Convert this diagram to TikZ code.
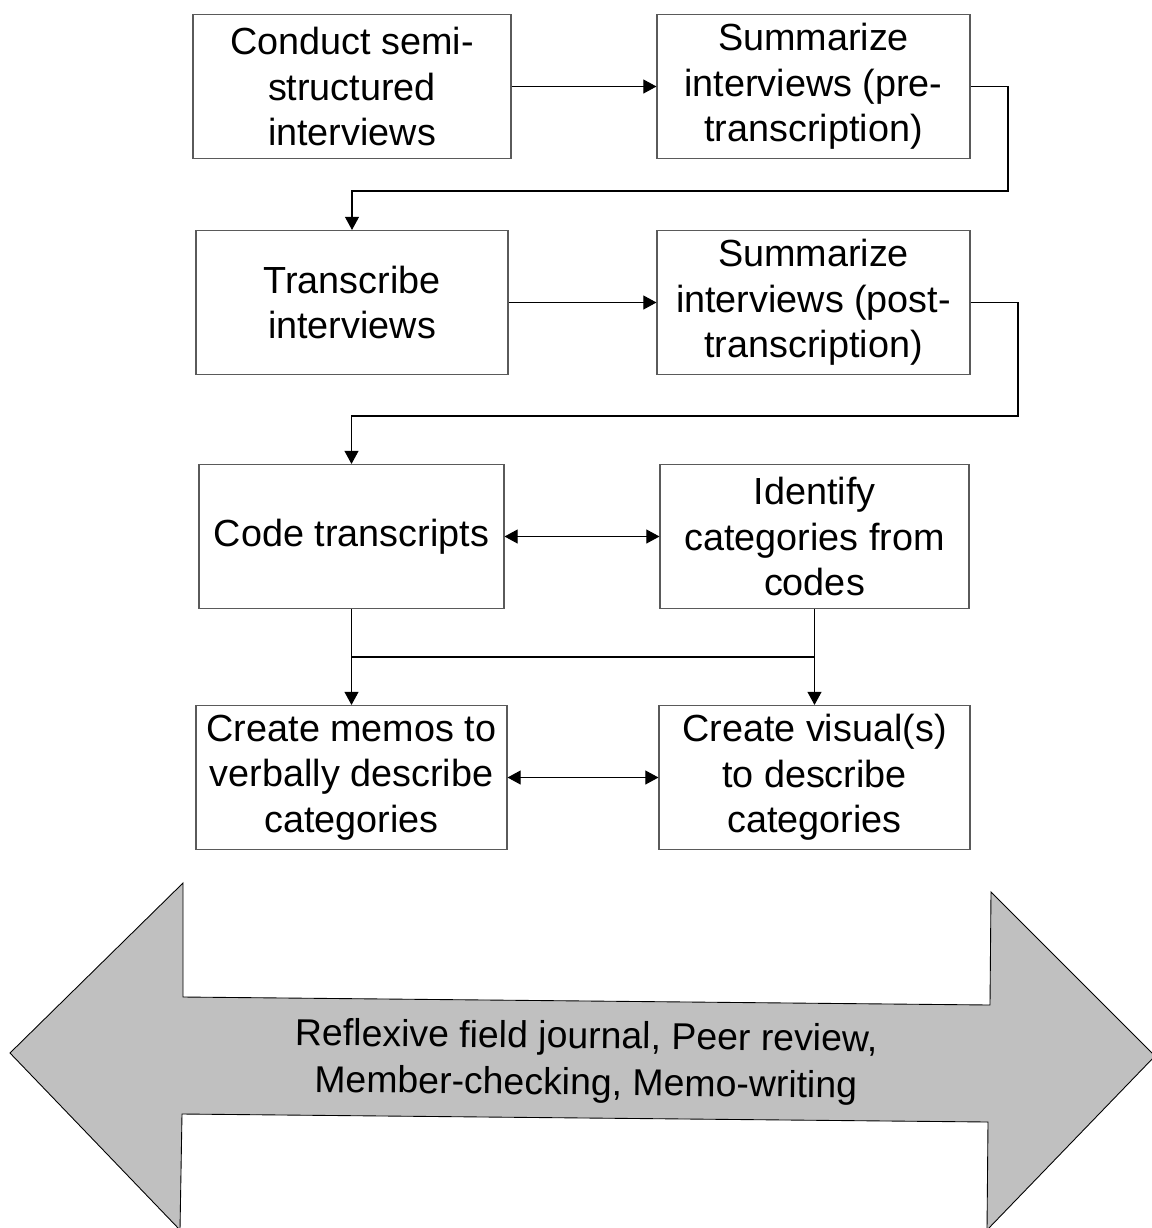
\documentclass[tikz,border=0pt]{standalone}
\usepackage{fontspec}
\setmainfont{Liberation Sans}
\usetikzlibrary{arrows.meta}
\definecolor{boxgray}{HTML}{5A5A5A}
\definecolor{bigfill}{HTML}{C0C0C0}
\tikzset{
  flowbox/.style={draw=boxgray, line width=0.65pt, align=center, inner sep=0pt,
    minimum height=2.88cm, font=\fontsize{21.5}{25.8}\selectfont},
  conn/.style={draw=black, line width=0.6pt, -{Triangle[length=7.5pt,width=8pt]}},
  dconn/.style={draw=black, line width=0.6pt, {Triangle[length=7.5pt,width=8pt]}-{Triangle[length=7.5pt,width=8pt]}},
  plain/.style={draw=black, line width=0.6pt},
}
\begin{document}
\begin{tikzpicture}[x=0.02cm, y=-0.02cm]
\useasboundingbox (0,0) rectangle (1152,1228);
\clip (0,0) rectangle (1152,1228);

% big double arrow
\filldraw[fill=bigfill, draw=black, line width=0.5pt]
  (10,1053) -- (183,883) -- (183,997) -- (990,1005) -- (991,892) -- (1155,1056)
  -- (987,1230) -- (988,1122) -- (182,1114) -- (180,1230) -- cycle;
\node[align=center, rotate=-0.6, font=\fontsize{21.3}{26.5}\selectfont] (bigtext) at (586,1062)
  {Reflexive field journal, Peer review,\\ Member-checking, Memo-writing};

% boxes
\node[flowbox, minimum width=6.36cm] (b1) at (352,86.5) {Conduct semi-\\ structured\\ interviews};
\node[flowbox, minimum width=6.26cm] (b2) at (813.5,86.5) {Summarize\\ interviews (pre-\\ transcription)};
\node[flowbox, minimum width=6.24cm] (b3) at (352,302.5) {Transcribe\\ interviews};
\node[flowbox, minimum width=6.26cm] (b4) at (813.5,302.5) {Summarize\\ interviews (post-\\ transcription)};
\node[flowbox, minimum width=6.10cm] (b5) at (351.5,536.5) {Code transcripts};
\node[flowbox, minimum width=6.18cm] (b6) at (814.5,536.5) {Identify\\ categories from\\ codes};
\node[flowbox, minimum width=6.22cm] (b7) at (351.5,777.5) {Create memos to\\ verbally describe\\ categories};
\node[flowbox, minimum width=6.22cm] (b8) at (814.5,777.5) {Create visual(s)\\ to describe\\ categories};

% elbow points
\coordinate (e1) at (1008,191);
\coordinate (e2) at (1018,416);
\coordinate (j1) at (351.5,657);
\coordinate (j2) at (814.5,657);

% connectors
\draw[conn] (b1.east) -- (b2.west);
\draw[conn] (b2.east) -| (e1) -| (b3.north);
\draw[conn] (b3.east) -- (b4.west);
\draw[conn] (b4.east) -| (e2) -| (b5.north);
\draw[dconn] (b5.east) -- (b6.west);
\draw[conn] (b5.south) -- (b7.north);
\draw[conn] (b6.south) -- (b8.north);
\draw[plain] (j1) -- (j2);
\draw[dconn] (b7.east) -- (b8.west);
\end{tikzpicture}
\end{document}
